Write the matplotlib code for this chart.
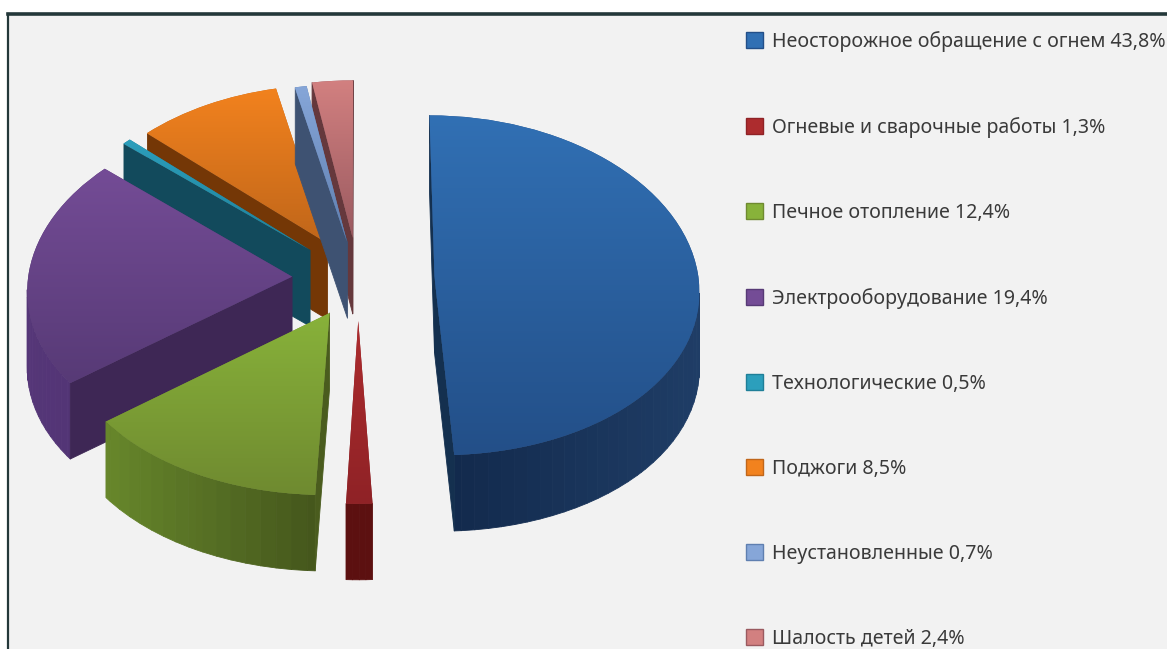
import numpy as np
import matplotlib
matplotlib.use("Agg")
import matplotlib.pyplot as plt
from matplotlib.collections import PolyCollection
from matplotlib.colors import LinearSegmentedColormap, to_rgb
from matplotlib.patches import Patch
from matplotlib.transforms import Transform

categories = ["Неосторожное обращение с огнем", "Огневые и сварочные работы",
              "Печное отопление", "Электрооборудование", "Технологические",
              "Поджоги", "Неустановленные", "Шалость детей"]
values = [43.8, 1.3, 12.4, 19.4, 0.5, 8.5, 0.7, 2.4]
explode = [0.29, 0.25, 0.23, 0.25, 0.25, 0.24, 0.22, 0.24]
top_light = ["#3170b4", "#ad2c2e", "#88b23a", "#744c96", "#2c9fbc", "#f2821e", "#86a6d8", "#d28080"]
top_dark = ["#234f88", "#8f2226", "#6f8a30", "#573a76", "#1f7f98", "#c0661a", "#5f7fb0", "#9a5a60"]
wall_left = ["#11284a", "#5c1010", "#67872b", "#553678", "#10485a", "#7a3b08", "#3c5070", "#683a3e"]
wall_right = ["#1f3d66", "#5c1010", "#42531b", "#4a2f6a", "#10485a", "#7a3b08", "#3c5070", "#683a3e"]
wall_side = ["#14304f", "#5c1010", "#4a5c1e", "#3e2755", "#124a5c", "#743706", "#3e5272", "#65383c"]
draw_order = [5, 7, 6, 4, 3, 2, 1, 0]

W, H = 1167, 649
CX, CY, RX, RY, K, KY, DEPTH = 358, 278, 264, 170, 0.07, 0.05, 76


class PieProjection(Transform):
    input_dims = output_dims = 2
    is_separable = False
    has_inverse = False

    def transform_non_affine(self, values):
        xy = np.asarray(values, dtype=float)
        f = 1.0 / (1.0 + K * xy[:, 1])
        return np.column_stack([CX + RX * xy[:, 0] * f,
                                CY - RY * xy[:, 1] * (1 - KY * xy[:, 1])])


fig = plt.figure(figsize=(W / 100, H / 100), dpi=100, facecolor="white")
ax = fig.add_axes([8 / W, 0, (W - 8) / W, (H - 13.5) / H])
ax.set_facecolor("#f2f2f2")

wedges, _ = ax.pie(values, explode=explode, startangle=90, counterclock=False,
                   radius=1, colors=top_dark, wedgeprops={"linewidth": 0})
ax.set_aspect("auto")
ax.set_xlim(8, W)
ax.set_ylim(H, 13.5)

proj = PieProjection()
for rank, i in enumerate(draw_order):
    w = wedges[i]
    base = 2 + rank * 3
    w.set_transform(proj + ax.transData)
    w.set_zorder(base + 1)

    poly = proj.transform_path(w.get_path()).to_polygons(closed_only=True)[0]
    x, y = poly[:, 0], poly[:, 1]
    area = np.sum(x[:-1] * y[1:] - x[1:] * y[:-1]) / 2
    quads, cols = [], []
    xmin, xmax = x.min(), x.max()
    cl, cr = np.array(to_rgb(wall_left[i])), np.array(to_rgb(wall_right[i]))
    for a, b in zip(poly[:-1], poly[1:]):
        d = b - a
        if np.hypot(*d) < 1e-6:
            continue
        # outward normal in pixel space; keep faces that look down at the viewer
        ny = -d[0] if area > 0 else d[0]
        if ny <= 0:
            continue
        long_edge = np.hypot(*d) > 35
        t = ((a[0] + b[0]) / 2 - xmin) / max(xmax - xmin, 1)
        col = np.array(to_rgb(wall_side[i])) if long_edge else cl + (cr - cl) * t
        quads.append([a, b, b + [0, DEPTH], a + [0, DEPTH]])
        cols.append(tuple(col))
    ax.add_collection(PolyCollection(quads, facecolors=cols, edgecolors=cols,
                                     linewidths=0.6, zorder=base))

    cmap = LinearSegmentedColormap.from_list("g", [top_light[i], top_dark[i]])
    im = ax.imshow(np.linspace(0, 1, 256)[:, None], cmap=cmap, aspect="auto",
                   extent=(xmin, xmax, y.max(), y.min()), zorder=base + 2)
    im.set_clip_path(w)

ax.set_aspect("auto")
ax.set_xlim(8, W)
ax.set_ylim(H, 13.5)
ax.set_xticks([])
ax.set_yticks([])
ax.set_frame_on(True)
for side in ("right", "bottom"):
    ax.spines[side].set_visible(False)
for side, lw in (("top", 2.6), ("left", 1.6)):
    ax.spines[side].set_color("#24383a")
    ax.spines[side].set_linewidth(lw)

labels = [f"{c} {v:.1f}%".replace(".", ",") for c, v in zip(categories, values)]
handles = [Patch(facecolor=c, edgecolor=e, linewidth=1.0)
           for c, e in zip(top_light, top_dark)]
fs = 14.1
leg = ax.legend(handles, labels, loc="upper left", frameon=False,
                prop={"family": "Noto Sans", "size": fs},
                labelcolor="#3a3a3a", handlelength=0.87, handleheight=0.87,
                handletextpad=0.45, labelspacing=3.32, borderaxespad=0, borderpad=0)
leg.set_zorder(100)
leg.set_bbox_to_anchor((746 / W, (H - 31) / H), transform=fig.transFigure)

fig.savefig("out.png", dpi=100, facecolor="white")
